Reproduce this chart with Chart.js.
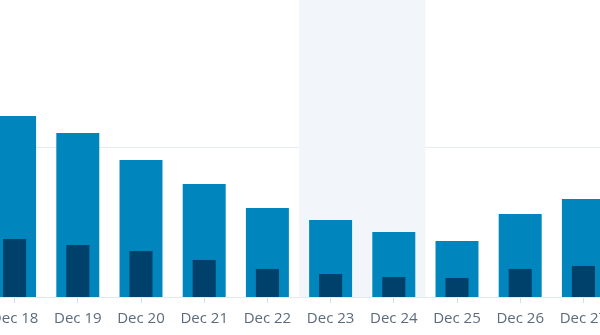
<!DOCTYPE html>
<html>
<head>
<meta charset="utf-8">
<script src="https://cdn.jsdelivr.net/npm/chart.js@4/dist/chart.umd.min.js"></script>
<style>
  html, body { margin: 0; padding: 0; background: #fff; overflow: hidden; }
  #wrap { position: absolute; left: -16.6px; top: 0; width: 632px; height: 335px; }
</style>
</head>
<body>
<div id="wrap"><canvas id="myChart"></canvas></div>
<script>
var labels = ["Dec 18", "Dec 19", "Dec 20", "Dec 21", "Dec 22", "Dec 23", "Dec 24", "Dec 25", "Dec 26", "Dec 27"];
var totalValues = [120.7, 109.3, 91.3, 75.3, 59.3, 51.3, 43.3, 37.3, 55.3, 65.3];
var partValues = [38.7, 34.7, 30.7, 24.7, 18.7, 15.3, 13.3, 12.7, 18.7, 20.7];
var shadedDays = ["Dec 23", "Dec 24"];
var gridValue = 100;

// shaded background behind the highlighted days
var shadePlugin = {
    id: 'shade',
    beforeDatasetsDraw: function (chart) {
        var x = chart.scales.x;
        var area = chart.chartArea;
        var ctx = chart.ctx;
        var first = labels.indexOf(shadedDays[0]);
        var last = labels.indexOf(shadedDays[shadedDays.length - 1]);
        var half = (x.getPixelForValue(1) - x.getPixelForValue(0)) / 2;
        ctx.save();
        ctx.fillStyle = '#f2f6fa';
        ctx.fillRect(x.getPixelForValue(first) - half, area.top,
            x.getPixelForValue(last) - x.getPixelForValue(first) + half * 2, area.bottom - area.top);
        ctx.restore();
    }
};

function runGraphic() {
    var ctx = document.getElementById('myChart').getContext('2d');
    var chart = new Chart(ctx, {
        type: 'bar',
        data: {
            labels: labels,
            datasets: [{
                data: partValues,
                backgroundColor: '#00416b',
                grouped: false,
                order: 0,
                categoryPercentage: 1,
                barPercentage: 0.365
            }, {
                data: totalValues,
                backgroundColor: '#0086bc',
                grouped: false,
                order: 1,
                categoryPercentage: 1,
                barPercentage: 0.68
            }]
        },
        options: {
            responsive: true,
            maintainAspectRatio: false,
            animation: false,
            layout: { padding: 0 },
            plugins: { legend: { display: false }, tooltip: { enabled: false } },
            scales: {
                x: {
                    offset: true,
                    grid: {
                        offset: false,
                        drawOnChartArea: false,
                        drawTicks: true,
                        tickLength: 6,
                        color: '#d5dde6'
                    },
                    border: { display: true, color: '#e4e9ee' },
                    ticks: {
                        color: '#5b6b7c',
                        padding: 7,
                        maxRotation: 0,
                        autoSkip: false,
                        font: { family: 'Open Sans', size: 15 }
                    }
                },
                y: {
                    min: 0,
                    max: 198,
                    border: { display: false },
                    // only one horizontal line, at gridValue
                    afterBuildTicks: function (axis) {
                        axis.ticks = [{ value: gridValue }];
                    },
                    grid: {
                        drawTicks: false,
                        tickLength: 0,
                        lineWidth: 1,
                        color: '#e6ebf0'
                    },
                    ticks: { display: false }
                }
            }
        },
        plugins: [shadePlugin]
    });
}

runGraphic();
</script>
</body>
</html>
